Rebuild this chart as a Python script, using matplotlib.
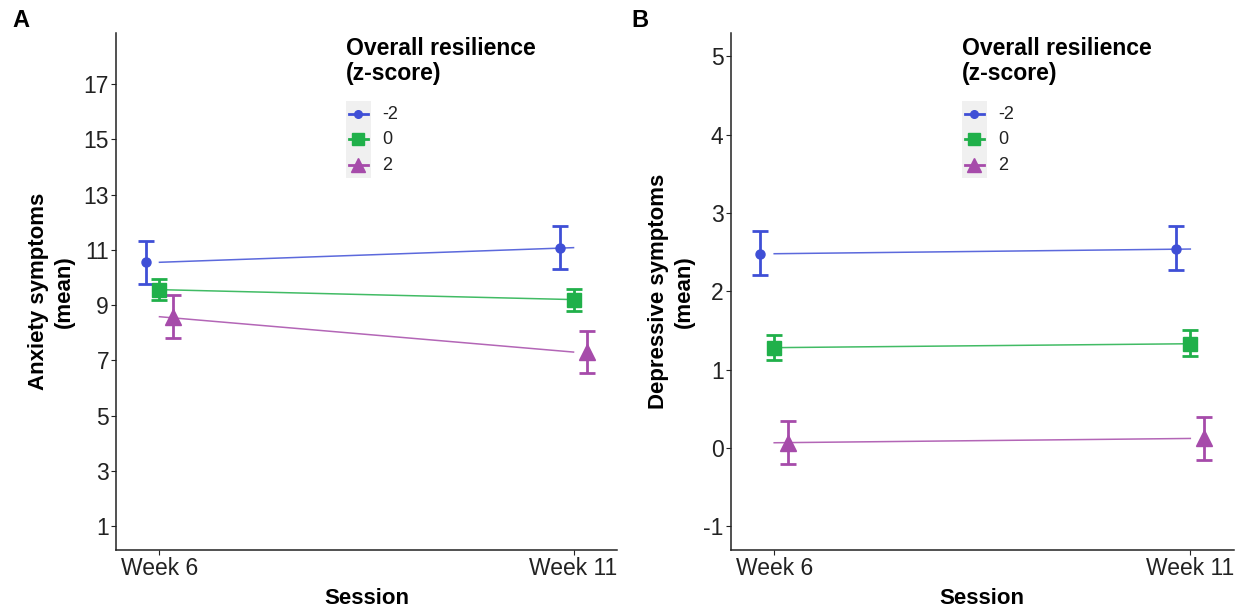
import numpy as np
import matplotlib.pyplot as plt
from matplotlib.patches import Rectangle

plt.rcParams["font.family"] = ["Liberation Sans", "DejaVu Sans"]
plt.rcParams["axes.unicode_minus"] = False

sessions = ["Week 6", "Week 11"]
groups = ["-2", "0", "2"]
colors = ["#3F4FD6", "#20B04A", "#A64BAA"]
markers = ["o", "s", "^"]
msizes = [6.5, 10, 11]

# panel A: anxiety means and CI limits, one row per resilience group
anx_mean = [[10.55, 11.08], [9.56, 9.20], [8.58, 7.30]]
anx_low = [[9.77, 10.32], [9.17, 8.80], [7.82, 6.53]]
anx_high = [[11.32, 11.88], [9.96, 9.59], [9.35, 8.07]]

# panel B: depressive symptoms
dep_mean = [[2.48, 2.54], [1.28, 1.33], [0.065, 0.12]]
dep_low = [[2.21, 2.27], [1.12, 1.17], [-0.21, -0.15]]
dep_high = [[2.77, 2.83], [1.44, 1.50], [0.34, 0.40]]

dodge = [-1 / 30, 0, 1 / 30]


def draw_panel(ax, mean, low, high, ylim, yticks, ylabel):
    x = np.arange(1, len(sessions) + 1)
    for i in range(len(groups)):
        m = np.array(mean[i])
        lo = np.array(low[i])
        hi = np.array(high[i])
        # fitted line, not dodged
        ax.plot(x, m, color=colors[i], lw=1.1, alpha=0.85, zorder=2)
        ax.errorbar(x + dodge[i], m, yerr=[m - lo, hi - m], fmt="none",
                    ecolor=colors[i], elinewidth=2, capsize=5.5, capthick=2,
                    zorder=3)
        ax.plot(x + dodge[i], m, ls="none", marker=markers[i],
                ms=msizes[i], color=colors[i], zorder=4)

    ax.set_xlim(0.895, 2.105)
    ax.set_ylim(*ylim)
    ax.set_xticks(x)
    ax.set_xticklabels(sessions)
    ax.set_yticks(yticks)
    for s in ["top", "right"]:
        ax.spines[s].set_visible(False)
    for s in ["left", "bottom"]:
        ax.spines[s].set_linewidth(1.1)
        ax.spines[s].set_color("#222222")
    ax.tick_params(labelsize=16.5, colors="#222222", length=3.5, width=0.8,
                   pad=1.5)
    ax.set_xlabel("Session", fontsize=16, fontweight="bold", labelpad=6)
    ax.set_ylabel(ylabel, fontsize=16, fontweight="bold", labelpad=6,
                  linespacing=1.3)

    # legend drawn by hand to get the ggplot look
    ax.text(0.459, 0.992, "Overall resilience\n(z-score)", transform=ax.transAxes,
            ha="left", va="top", fontsize=16.6, fontweight="bold",
            linespacing=1.1)
    ax.add_patch(Rectangle((0.459, 0.719), 0.05, 0.149, transform=ax.transAxes,
                           facecolor="#F0F0F0", edgecolor="none", zorder=1,
                           clip_on=False))
    key_y = [0.843, 0.794, 0.744]
    key_ms = [5.5, 8.5, 9.5]
    for i in range(len(groups)):
        ax.plot([0.465, 0.503], [key_y[i], key_y[i]], transform=ax.transAxes,
                color=colors[i], lw=2, clip_on=False, zorder=5)
        ax.plot([0.484], [key_y[i]], transform=ax.transAxes, marker=markers[i],
                ms=key_ms[i], color=colors[i], clip_on=False, zorder=6)
        ax.text(0.531, key_y[i], groups[i], transform=ax.transAxes,
                ha="left", va="center", fontsize=13, color="#222222")


fig = plt.figure(figsize=(12.4, 6.09), dpi=100)
H = 609
W = 1240
axA = fig.add_axes([116 / W, 1 - 549.6 / H, 501 / W, 516.6 / H])
axB = fig.add_axes([730.5 / W, 1 - 549.6 / H, 503.5 / W, 516.6 / H])

draw_panel(axA, anx_mean, anx_low, anx_high, (0.15, 18.85),
           [1, 3, 5, 7, 9, 11, 13, 15, 17], "Anxiety symptoms\n(mean)")
draw_panel(axB, dep_mean, dep_low, dep_high, (-1.3, 5.3),
           [-1, 0, 1, 2, 3, 4, 5], "Depressive symptoms\n(mean)")

fig.text(12 / W, 1 - 27 / H, "A", fontsize=17, fontweight="bold")
fig.text(631 / W, 1 - 27 / H, "B", fontsize=17, fontweight="bold")

fig.savefig("out.png", dpi=100, facecolor="white")
